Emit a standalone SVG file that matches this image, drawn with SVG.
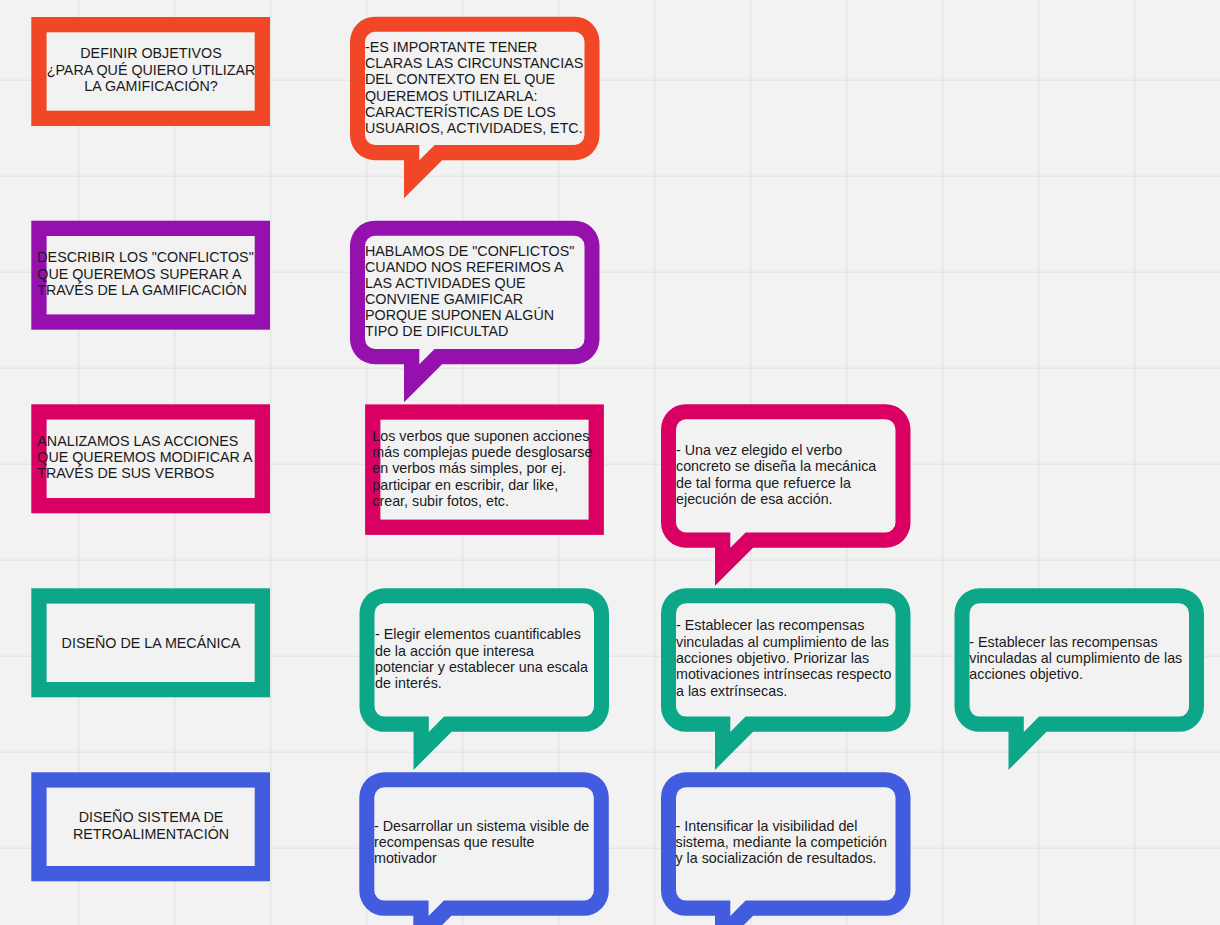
<svg xmlns="http://www.w3.org/2000/svg" xmlns:xlink="http://www.w3.org/1999/xlink" width="1220" height="925" viewBox="0 0 1220 925">
<style>
.grid line{stroke:#e6e6e6;stroke-width:1.6}
.box{fill:#f2f2f2;stroke-width:15.3}
.t{font-family:"Liberation Sans",Arial,sans-serif;font-size:14.3px;fill:#1a1a1a}
.c{text-anchor:middle}
</style>
<defs>
<g id="bubble">
<path fill="currentColor" d="M25 0H224.5A25 25 0 0 1 249.5 25V118.5A25 25 0 0 1 224.5 143.5H92.1L54 181.6V143.5H25A25 25 0 0 1 0 118.5V25A25 25 0 0 1 25 0Z"/>
<path fill="#f2f2f2" d="M25 15H224.5A10 10 0 0 1 234.5 25V118.3A10 10 0 0 1 224.5 128.3H84.6L69.3 143.6V128.3H25A10 10 0 0 1 15 118.3V25A10 10 0 0 1 25 15Z"/>
</g>
</defs>
<rect width="1220" height="925" fill="#f2f2f2"/>
<g class="grid">
<line x1="78.7" y1="0" x2="78.7" y2="925"/><line x1="174.7" y1="0" x2="174.7" y2="925"/><line x1="270.7" y1="0" x2="270.7" y2="925"/><line x1="366.7" y1="0" x2="366.7" y2="925"/><line x1="462.7" y1="0" x2="462.7" y2="925"/><line x1="558.7" y1="0" x2="558.7" y2="925"/><line x1="654.7" y1="0" x2="654.7" y2="925"/><line x1="750.7" y1="0" x2="750.7" y2="925"/><line x1="846.7" y1="0" x2="846.7" y2="925"/><line x1="942.7" y1="0" x2="942.7" y2="925"/><line x1="1038.7" y1="0" x2="1038.7" y2="925"/><line x1="1134.7" y1="0" x2="1134.7" y2="925"/>
<line x1="0" y1="80.3" x2="1220" y2="80.3"/><line x1="0" y1="176.3" x2="1220" y2="176.3"/><line x1="0" y1="272.3" x2="1220" y2="272.3"/><line x1="0" y1="368.3" x2="1220" y2="368.3"/><line x1="0" y1="464.3" x2="1220" y2="464.3"/><line x1="0" y1="560.3" x2="1220" y2="560.3"/><line x1="0" y1="656.3" x2="1220" y2="656.3"/><line x1="0" y1="752.3" x2="1220" y2="752.3"/><line x1="0" y1="848.3" x2="1220" y2="848.3"/>
</g>
<g id="connectors"></g>

<g id="box-objetivos">
<rect class="box" x="38.95" y="24.65" width="223.4" height="93.7" stroke="#f24726"/>
<text class="t c"><tspan x="151" y="58.3">DEFINIR OBJETIVOS</tspan><tspan x="151" y="75">¿PARA QUÉ QUIERO UTILIZAR</tspan><tspan x="151" y="91.3">LA GAMIFICACIÓN?</tspan></text>
</g>
<g id="bubble-contexto" color="#f24726">
<use xlink:href="#bubble" transform="translate(350,16.7)"/>
<text class="t"><tspan x="365" y="51.7">-ES IMPORTANTE TENER</tspan><tspan x="365" y="68">CLARAS LAS CIRCUNSTANCIAS</tspan><tspan x="365" y="84.3">DEL CONTEXTO EN EL QUE</tspan><tspan x="365" y="100.5">QUEREMOS UTILIZARLA:</tspan><tspan x="365" y="116.8">CARACTERÍSTICAS DE LOS</tspan><tspan x="365" y="133">USUARIOS, ACTIVIDADES, ETC.</tspan></text>
</g>

<g id="box-conflictos">
<rect class="box" x="38.95" y="228.35" width="223.4" height="93.7" stroke="#9510ac"/>
<text class="t"><tspan x="37.3" y="262.4">DESCRIBIR LOS "CONFLICTOS"</tspan><tspan x="37.3" y="278.7">QUE QUEREMOS SUPERAR A</tspan><tspan x="37.3" y="295">TRAVÉS DE LA GAMIFICACIÓN</tspan></text>
</g>
<g id="bubble-conflictos" color="#9510ac">
<use xlink:href="#bubble" transform="translate(350,220.7)"/>
<text class="t"><tspan x="365" y="256">HABLAMOS DE "CONFLICTOS"</tspan><tspan x="365" y="272">CUANDO NOS REFERIMOS A</tspan><tspan x="365" y="288">LAS ACTIVIDADES QUE</tspan><tspan x="365" y="304.3">CONVIENE GAMIFICAR</tspan><tspan x="365" y="320.3">PORQUE SUPONEN ALGÚN</tspan><tspan x="365" y="336.3">TIPO DE DIFICULTAD</tspan></text>
</g>

<g id="box-acciones">
<rect class="box" x="38.95" y="411.95" width="223.4" height="93.7" stroke="#da0063"/>
<text class="t"><tspan x="37.3" y="445.7">ANALIZAMOS LAS ACCIONES</tspan><tspan x="37.3" y="462">QUE QUEREMOS MODIFICAR A</tspan><tspan x="37.3" y="478.3">TRAVÉS DE SUS VERBOS</tspan></text>
</g>
<g id="box-verbos">
<rect class="box" x="372.75" y="412.05" width="223.5" height="115.2" stroke="#da0063" stroke-width="15.5"/>
<text class="t"><tspan x="372.3" y="440.7">Los verbos que suponen acciones</tspan><tspan x="372.3" y="457">más complejas puede desglosarse</tspan><tspan x="372.3" y="473.3">en verbos más simples, por ej.</tspan><tspan x="372.3" y="489.6">participar en escribir, dar like,</tspan><tspan x="372.3" y="506">crear, subir fotos, etc.</tspan></text>
</g>
<g id="bubble-verbo" color="#da0063">
<use xlink:href="#bubble" transform="translate(661,404.2)"/>
<text class="t"><tspan x="676" y="455">- Una vez elegido el verbo</tspan><tspan x="676" y="471.3">concreto se diseña la mecánica</tspan><tspan x="676" y="487.6">de tal forma que refuerce la</tspan><tspan x="676" y="504">ejecución de esa acción.</tspan></text>
</g>

<g id="box-mecanica">
<rect class="box" x="38.95" y="595.95" width="223.4" height="93.7" stroke="#0ca789"/>
<text class="t c"><tspan x="151" y="647.5">DISEÑO DE LA MECÁNICA</tspan></text>
</g>
<g id="bubble-elementos" color="#0ca789">
<use xlink:href="#bubble" transform="translate(359.5,588.3)"/>
<text class="t"><tspan x="375" y="639.3">- Elegir elementos cuantificables</tspan><tspan x="375" y="655.6">de la acción que interesa</tspan><tspan x="375" y="671.9">potenciar y establecer una escala</tspan><tspan x="375" y="688.2">de interés.</tspan></text>
</g>
<g id="bubble-recompensas1" color="#0ca789">
<use xlink:href="#bubble" transform="translate(661,588.3)"/>
<text class="t"><tspan x="676" y="630.3">- Establecer las recompensas</tspan><tspan x="676" y="646.6">vinculadas al cumplimiento de las</tspan><tspan x="676" y="662.9">acciones objetivo. Priorizar las</tspan><tspan x="676" y="679.2">motivaciones intrínsecas respecto</tspan><tspan x="676" y="695.5">a las extrínsecas.</tspan></text>
</g>
<g id="bubble-recompensas2" color="#0ca789">
<use xlink:href="#bubble" transform="translate(954.5,588.3)"/>
<text class="t"><tspan x="969.3" y="646.7">- Establecer las recompensas</tspan><tspan x="969.3" y="663">vinculadas al cumplimiento de las</tspan><tspan x="969.3" y="679.3">acciones objetivo.</tspan></text>
</g>

<g id="box-retro">
<rect class="box" x="38.95" y="779.95" width="223.4" height="93.7" stroke="#425ce0"/>
<text class="t c"><tspan x="151" y="822">DISEÑO SISTEMA DE</tspan><tspan x="151" y="838.5">RETROALIMENTACIÓN</tspan></text>
</g>
<g id="bubble-visible" color="#425ce0">
<use xlink:href="#bubble" transform="translate(359.3,772.3)"/>
<text class="t"><tspan x="374" y="830.7">- Desarrollar un sistema visible de</tspan><tspan x="374" y="847">recompensas que resulte</tspan><tspan x="374" y="863.3">motivador</tspan></text>
</g>
<g id="bubble-competicion" color="#425ce0">
<use xlink:href="#bubble" transform="translate(661,772.3)"/>
<text class="t"><tspan x="675.5" y="830.7">- Intensificar la visibilidad del</tspan><tspan x="675.5" y="847">sistema, mediante la competición</tspan><tspan x="675.5" y="863.3">y la socialización de resultados.</tspan></text>
</g>
</svg>
